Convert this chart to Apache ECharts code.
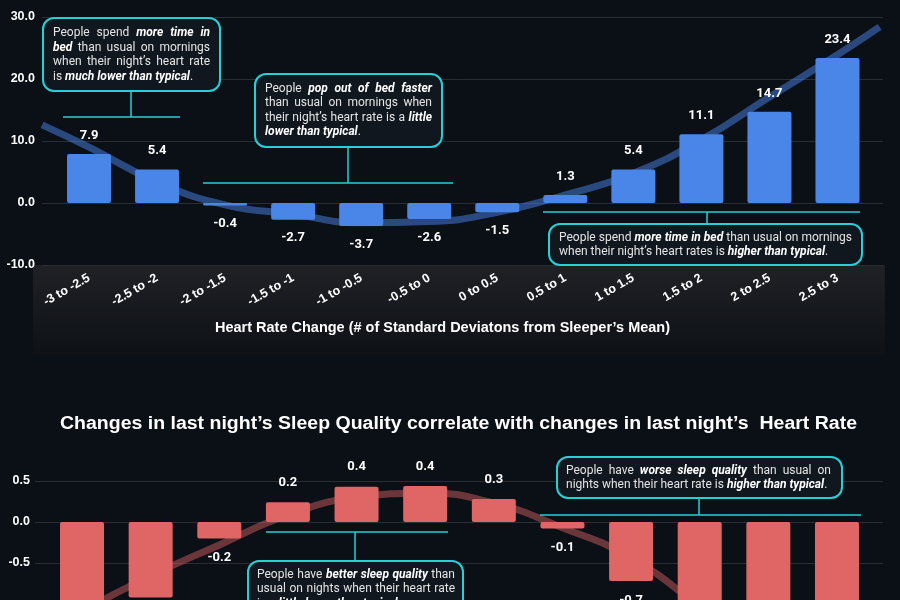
<!DOCTYPE html>
<html><head><meta charset="utf-8">
<script src="https://cdn.jsdelivr.net/npm/echarts@6/dist/echarts.min.js"></script>
<style>html,body{margin:0;padding:0;background:#0b0f16}#c{width:900px;height:600px}</style>
</head><body><div id="c"></div>
<script>
// ---- data ----
const categories = ['-3 to -2.5','-2.5 to -2','-2 to -1.5','-1.5 to -1','-1 to -0.5','-0.5 to 0','0 to 0.5','0.5 to 1','1 to 1.5','1.5 to 2','2 to 2.5','2.5 to 3'];
const timeInBed = [7.9, 5.4, -0.4, -2.7, -3.7, -2.6, -1.5, 1.3, 5.4, 11.1, 14.7, 23.4];
const timeTrendX = [-0.69, 0, 1, 2, 3, 4, 5, 6, 7, 8, 9, 10, 11, 11.62];
const timeTrend  = [12.6, 9.0, 3.4, -0.3, -1.8, -3.2, -3.0, -1.5, 1.3, 4.8, 10.2, 17.1, 23.9, 28.4];
const sleepQuality = [-1.2, -0.92, -0.2, 0.24, 0.43, 0.44, 0.28, -0.08, -0.72, -1.1, -1.3, -1.6];
const qualityTrendX = [-0.69, 0, 1, 2, 3, 4, 5, 6, 7, 8, 9, 10];
const qualityTrend  = [-1.6, -1.12, -0.66, -0.28, 0.085, 0.3, 0.35, 0.23, -0.07, -0.44, -1.05, -1.8];
const topTicks = {min: -10, max: 30, interval: 10};
const botTicks = {min: -1, max: 0.5, interval: 0.5};
const xTitle = 'Heart Rate Change (# of Standard Deviatons from Sleeper\u2019s Mean)';
const chartTitle = 'Changes in last night\u2019s Sleep Quality correlate with changes in last night\u2019s  Heart Rate';
const note1 = ['People spend {b|more time in}', '{b|bed} than usual on mornings', 'when their night\u2019s heart rate', 'is {b|much lower than typical}.'];
const note2 = ['People {b|pop out of bed faster}', 'than usual on mornings when', 'their night\u2019s  heart rate is a {b|little}', '{b|lower than typical}.'];
const note3 = ['People spend {b|more time in bed} than usual on mornings', 'when their night\u2019s heart rates is {b|higher than typical}.'];
const note4 = ['People have {b|worse sleep quality} than usual on', 'nights when their heart rate is {b|higher than typical}.'];
const note5 = ['People have {b|better sleep quality} than', 'usual on nights when their heart rate', 'is a {b|little lower than typical}.'];

// ---- styles ----
const font = 'Roboto, "Noto Sans", sans-serif';
const arial = '"Liberation Sans", Arial, sans-serif';
const splitColor = '#2a2d34';
const cyan = '#26d0d6';
const boxFill = '#10171f';

const ctx = document.createElement('canvas').getContext('2d');
function measure(text, f) { ctx.font = f; return ctx.measureText(text).width; }
const titleScale = 797 / measure(chartTitle, 'bold 18px "Liberation Sans"');
const xTitleScale = 455 / measure(xTitle, 'bold 15px "Liberation Sans"');

const fN = '12px Roboto';
const fB = 'italic bold 12px Roboto';
// lays out one callout's text word by word, justified like the reference
function justify(x, y0, lh, width, lines) {
  const els = [];
  lines.forEach((line, li) => {
    const words = [];
    let cur = [];
    line.split(/(\{b\|[^}]*\})/).forEach(seg => {
      if (!seg) return;
      const m = seg.match(/^\{b\|([^}]*)\}$/);
      const bold = !!m;
      const txt = m ? m[1] : seg;
      txt.split(' ').forEach((p, pi) => {
        if (pi > 0 && cur.length) { words.push(cur); cur = []; }
        if (p) cur.push({t: p, b: bold});
      });
    });
    if (cur.length) words.push(cur);
    const ww = words.map(w => w.reduce((s, p) => s + measure(p.t, p.b ? fB : fN), 0));
    const total = ww.reduce((a, b) => a + b, 0);
    const last = li === lines.length - 1;
    const gap = (!last && words.length > 1) ? (width - total) / (words.length - 1) : measure(' ', fN);
    let cx = x;
    const y = y0 + li * lh;
    words.forEach(w => {
      w.forEach(p => {
        els.push({type: 'text', z: 101, style: {x: cx, y: y, text: p.t, fontSize: 12, fontFamily: 'Roboto',
          fontWeight: p.b ? 'bold' : 'normal', fontStyle: p.b ? 'italic' : 'normal',
          fill: p.b ? '#ffffff' : '#e4e4e4', verticalAlign: 'middle'}});
        cx += measure(p.t, p.b ? fB : fN);
      });
      cx += gap;
    });
  });
  return els;
}

const chart = echarts.init(document.getElementById('c'));

function barData(vals) {
  return vals.map(v => ({value: v, label: {position: v >= 0 ? 'top' : 'bottom'}}));
}
function zip(xs, ys) { return xs.map((x, i) => [x, ys[i]]); }
function yLabel(margin, showMin) {
  return {color: '#fff', fontWeight: 'bold', fontSize: 12.5, fontFamily: arial, margin: margin,
          showMinLabel: showMin, formatter: v => v.toFixed(1)};
}
function box(x, y, w, h) {
  return {type: 'rect', z: 100, shape: {x: x, y: y, width: w, height: h, r: 11},
          style: {fill: boxFill, stroke: cyan, lineWidth: 2}};
}
function seg(x1, y1, x2, y2) {
  return {type: 'line', z: 100, shape: {x1: x1, y1: y1, x2: x2, y2: y2},
          style: {stroke: cyan, lineWidth: 1.5}};
}

const option = {
  backgroundColor: '#0b0f16',
  animation: false,
  grid: [
    {left: 55, right: 28.5, top: 17, height: 248, outerBoundsMode: 'none'},
    {left: 42, right: 17, top: 17, height: 248, outerBoundsMode: 'none'},
    {left: 47.7, right: 28.7, top: 481, height: 123, outerBoundsMode: 'none'},
    {left: 35, right: 17, top: 481, height: 123, outerBoundsMode: 'none'}
  ],
  xAxis: [
    {gridIndex: 0, type: 'category', data: categories, axisLine: {show: false}, axisTick: {show: false},
     axisLabel: {rotate: 30, interval: 0, color: '#fff', fontWeight: 'bold', fontSize: 12.5, fontFamily: arial, margin: 12}},
    {gridIndex: 1, type: 'value', min: -0.691, max: 11.669, show: false},
    {gridIndex: 2, type: 'category', data: categories, show: false},
    {gridIndex: 3, type: 'value', min: -0.685, max: 11.67, show: false}
  ],
  yAxis: [
    Object.assign({gridIndex: 0, type: 'value', show: false}, topTicks),
    Object.assign({gridIndex: 1, type: 'value', axisLine: {show: false}, axisTick: {show: false},
      splitLine: {lineStyle: {color: splitColor}}, axisLabel: yLabel(7, true)}, topTicks),
    Object.assign({gridIndex: 2, type: 'value', show: false}, botTicks),
    Object.assign({gridIndex: 3, type: 'value', axisLine: {show: false}, axisTick: {show: false},
      splitLine: {lineStyle: {color: splitColor}}, axisLabel: yLabel(5, false)}, botTicks)
  ],
  series: [
    {type: 'line', xAxisIndex: 1, yAxisIndex: 1, data: zip(timeTrendX, timeTrend), smooth: true,
     showSymbol: false, z: 1, lineStyle: {width: 7, color: '#4a86e8', opacity: 0.5}},
    {type: 'bar', xAxisIndex: 0, yAxisIndex: 0, data: barData(timeInBed), barWidth: 44, z: 3,
     itemStyle: {color: '#4a86e8', borderRadius: 2},
     label: {show: true, color: '#fff', fontWeight: 'bold', fontSize: 13, fontFamily: font, distance: 12,
             formatter: p => p.value.toFixed(1)}},
    {type: 'line', xAxisIndex: 3, yAxisIndex: 3, data: zip(qualityTrendX, qualityTrend), smooth: true,
     showSymbol: false, z: 1, lineStyle: {width: 7, color: '#e06666', opacity: 0.45}},
    {type: 'bar', xAxisIndex: 2, yAxisIndex: 2, data: barData(sleepQuality), barWidth: 44, z: 3,
     itemStyle: {color: '#e06666', borderRadius: 2},
     label: {show: true, color: '#fff', fontWeight: 'bold', fontSize: 13, fontFamily: font, distance: 13,
             formatter: p => p.value.toFixed(1)}}
  ],
  graphic: [
    {type: 'rect', z: -1, shape: {x: 33, y: 265, width: 852, height: 90},
     style: {fill: new echarts.graphic.LinearGradient(0, 0, 0, 1, [
       {offset: 0, color: '#1f2125'}, {offset: 1, color: '#0e1116'}])}},
    {type: 'text', z: 10, x: 442.5, y: 328, scaleX: xTitleScale,
     style: {text: xTitle, fill: '#fff', fontSize: 15, fontWeight: 'bold',
      fontFamily: arial, align: 'center', verticalAlign: 'middle'}},
    {type: 'text', z: 10, x: 458.5, y: 424, scaleX: titleScale,
     style: {text: chartTitle, fill: '#fff', fontSize: 18, fontWeight: 'bold',
      fontFamily: arial, align: 'center', verticalAlign: 'middle'}},
    seg(63, 117, 180, 117), seg(131, 91, 131, 117), box(43, 18, 177, 73),
    seg(203, 183, 453, 183), seg(348, 147, 348, 183), box(255, 74, 187, 73),
    seg(543, 212, 860, 212), seg(707, 212, 707, 224), box(549, 224, 313, 41),
    seg(540, 515, 861, 515), seg(699, 498, 699, 515), box(557, 457, 285, 41),
    seg(266, 532, 448, 532), seg(355, 532, 355, 561), box(248, 561, 215, 62)
  ].concat(
    justify(53, 33, 14.6, 157, note1),
    justify(265, 89, 14.4, 167, note2),
    justify(559, 238, 14.4, 293, note3),
    justify(566, 471, 14.4, 265, note4),
    justify(257, 575, 14.4, 198, note5)
  )
};
chart.setOption(option);
</script>
</body></html>
